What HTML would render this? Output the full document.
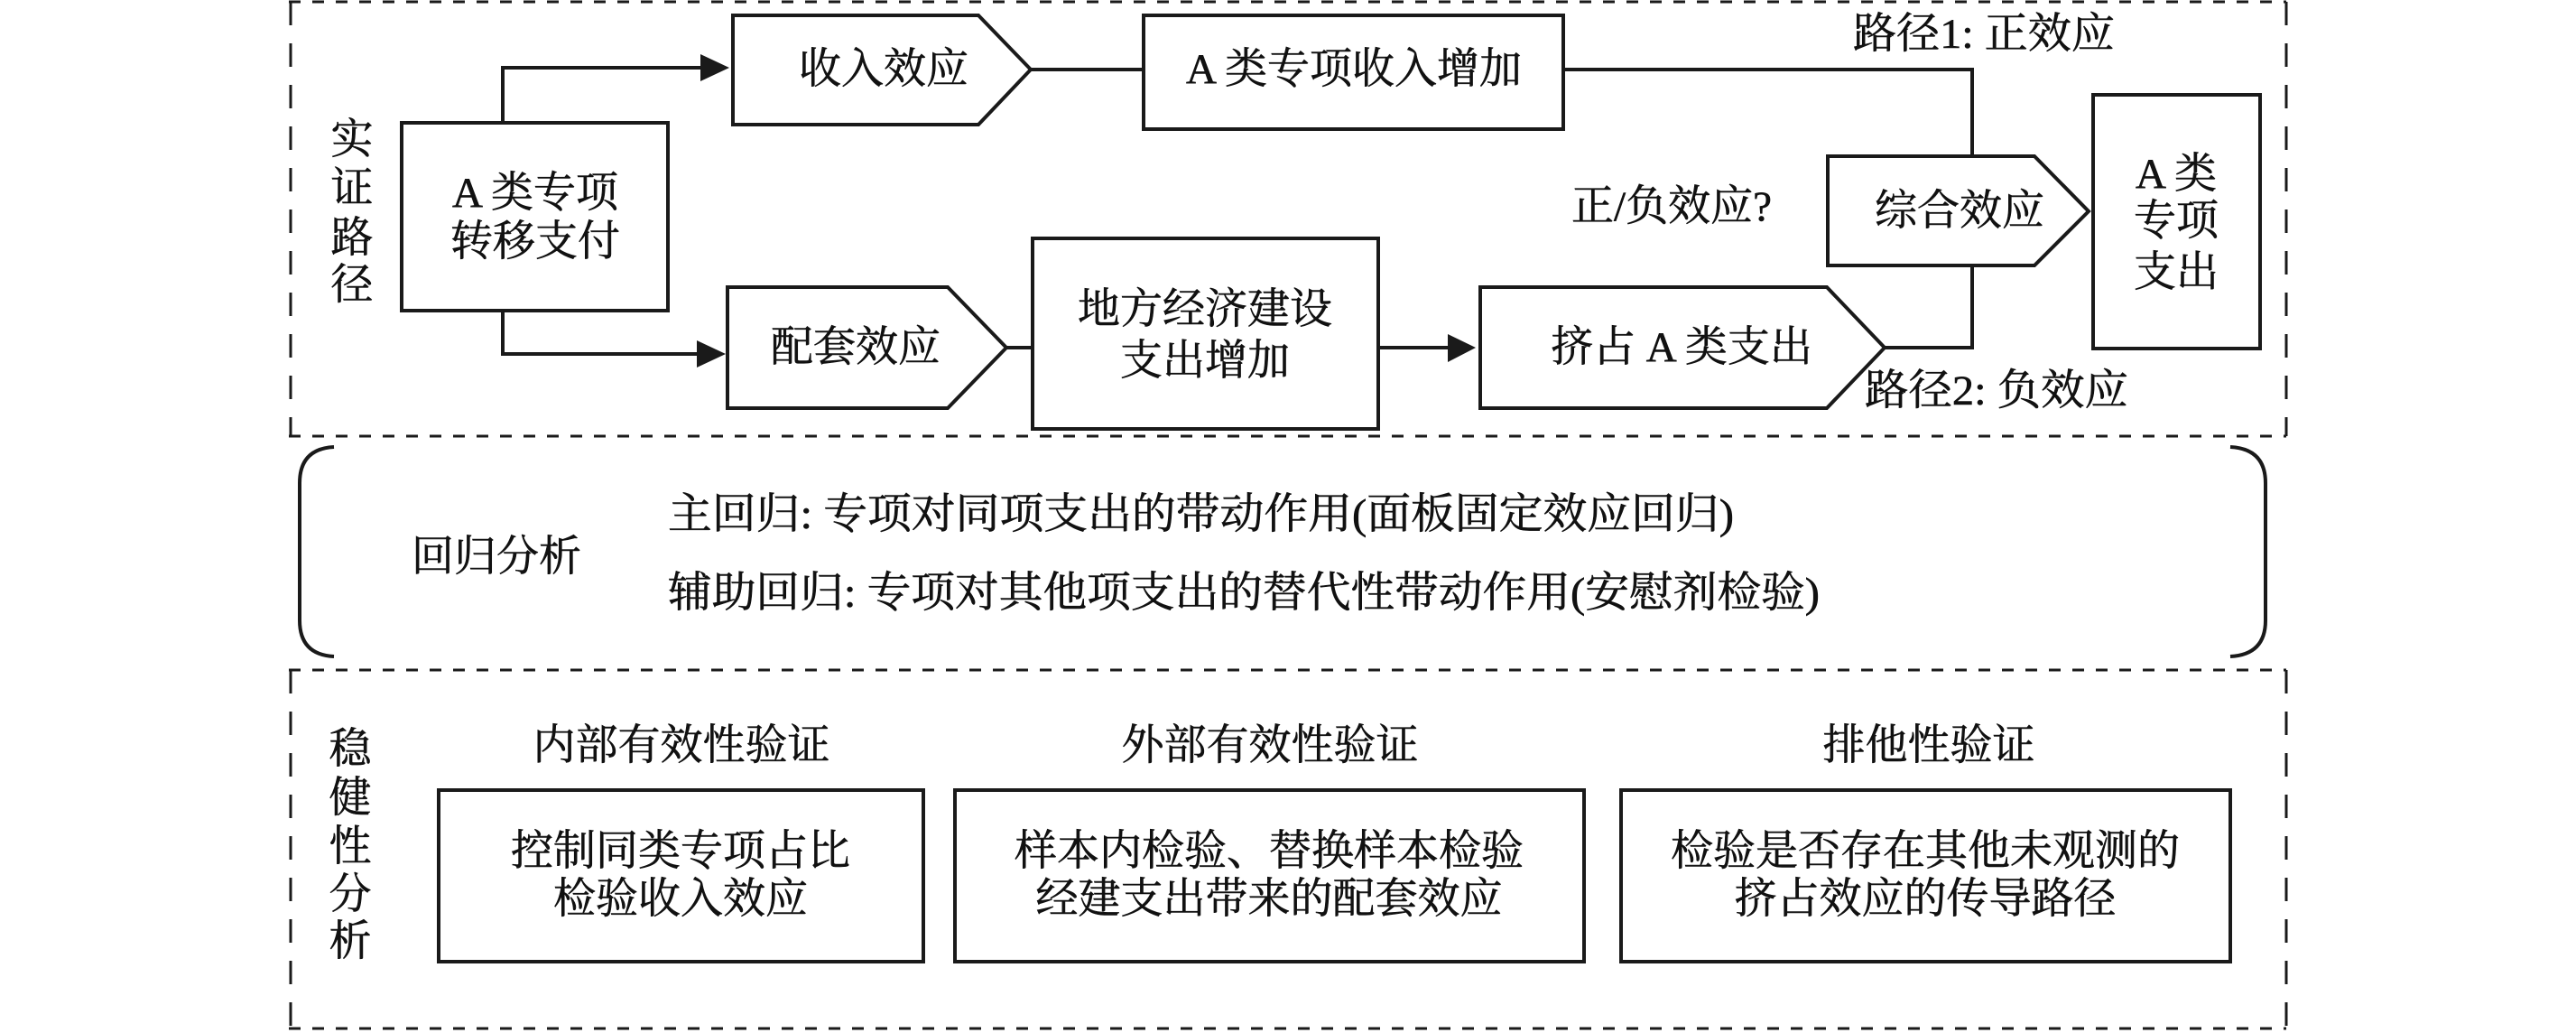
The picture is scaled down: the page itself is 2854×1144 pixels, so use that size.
<!DOCTYPE html>
<html><head><meta charset="utf-8"><style>
html,body{margin:0;padding:0;background:#fff;}
svg{display:block;}
text{font-family:"Liberation Serif","Noto Serif CJK SC",serif;font-size:47px;fill:#111;stroke:#111;stroke-width:0.6px;dominant-baseline:central;text-anchor:middle;}
</style></head><body>
<svg width="2854" height="1144" viewBox="0 0 2854 1144" xmlns="http://www.w3.org/2000/svg">
<g fill="none" stroke="#1a1a1a">
<g stroke-width="3" stroke-dasharray="13 13">
<line x1="320" y1="2" x2="2533" y2="2"/>
<line x1="320" y1="483" x2="2533" y2="483"/>
<line x1="320" y1="742" x2="2533" y2="742"/>
<line x1="320" y1="1139" x2="2533" y2="1139"/>
</g>
<g stroke-width="3" stroke-dasharray="26 20">
<line x1="322" y1="2" x2="322" y2="483"/>
<line x1="2533" y1="2" x2="2533" y2="483"/>
<line x1="322" y1="742" x2="322" y2="1139"/>
<line x1="2533" y1="742" x2="2533" y2="1139"/>
</g>
<path d="M370 495 Q332 497 332 535 L332 687 Q332 725 370 727" stroke-width="4"/>
<path d="M2471 495 Q2510 497 2510 535 L2510 687 Q2510 725 2471 727" stroke-width="4"/>
<g stroke-width="4">
<rect x="445" y="136" width="295" height="208"/>
<rect x="1267" y="17" width="465" height="126"/>
<rect x="1144" y="264" width="383" height="211"/>
<rect x="2319" y="105" width="185" height="281"/>
<polygon points="812,17 1084,17 1142,77 1084,138 812,138"/>
<polygon points="806,318 1050,318 1115,385 1050,452 806,452"/>
<polygon points="1640,318 2024,318 2088,385 2024,452 1640,452"/>
<polygon points="2025,173 2254,173 2314,234 2254,294 2025,294"/>
<rect x="486" y="875" width="537" height="190"/>
<rect x="1058" y="875" width="697" height="190"/>
<rect x="1796" y="875" width="675" height="190"/>
<polyline points="557,136 557,75 780,75"/>
<polyline points="557,344 557,392 776,392"/>
<line x1="1142" y1="77" x2="1267" y2="77"/>
<line x1="1115" y1="385" x2="1144" y2="385"/>
<line x1="1527" y1="385" x2="1606" y2="385"/>
<polyline points="1732,77 2185,77 2185,173"/>
<polyline points="2185,294 2185,385 2088,385"/>
</g>
</g>
<g fill="#1a1a1a">
<polygon points="776,60 808,75 776,90"/>
<polygon points="772,377 804,392 772,407"/>
<polygon points="1604,370 1635,385 1604,401"/>
</g>
<text x="390" y="155">实</text>
<text x="390" y="209">证</text>
<text x="390" y="264">路</text>
<text x="390" y="316">径</text>
<text x="593" y="214">A 类专项</text>
<text x="593" y="268">转移支付</text>
<text x="979" y="77">收入效应</text>
<text x="1500" y="77">A 类专项收入增加</text>
<text x="948" y="385">配套效应</text>
<text x="1335" y="343">地方经济建设</text>
<text x="1335" y="400">支出增加</text>
<text x="1863" y="385">挤占 A 类支出</text>
<text x="2171" y="234">综合效应</text>
<text x="1852" y="229">正/负效应?</text>
<text x="2198" y="38" textLength="290" lengthAdjust="spacingAndGlyphs">路径1: 正效应</text>
<text x="2212" y="433" textLength="292" lengthAdjust="spacingAndGlyphs">路径2: 负效应</text>
<text x="2411" y="193">A 类</text>
<text x="2411" y="245">专项</text>
<text x="2411" y="302">支出</text>
<text x="550" y="617">回归分析</text>
<text x="740" y="570" style="text-anchor:start" textLength="1181" lengthAdjust="spacingAndGlyphs">主回归: 专项对同项支出的带动作用(面板固定效应回归)</text>
<text x="740" y="657" style="text-anchor:start" textLength="1276" lengthAdjust="spacingAndGlyphs">辅助回归: 专项对其他项支出的替代性带动作用(安慰剂检验)</text>
<text x="388" y="830">稳</text>
<text x="388" y="884">健</text>
<text x="388" y="938">性</text>
<text x="388" y="991">分</text>
<text x="388" y="1043">析</text>
<text x="755" y="826">内部有效性验证</text>
<text x="1407" y="826">外部有效性验证</text>
<text x="2137" y="826">排他性验证</text>
<text x="754" y="943">控制同类专项占比</text>
<text x="754" y="996">检验收入效应</text>
<text x="1406" y="943">样本内检验、替换样本检验</text>
<text x="1406" y="996">经建支出带来的配套效应</text>
<text x="2133" y="943">检验是否存在其他未观测的</text>
<text x="2133" y="996">挤占效应的传导路径</text>
</svg>
</body></html>
